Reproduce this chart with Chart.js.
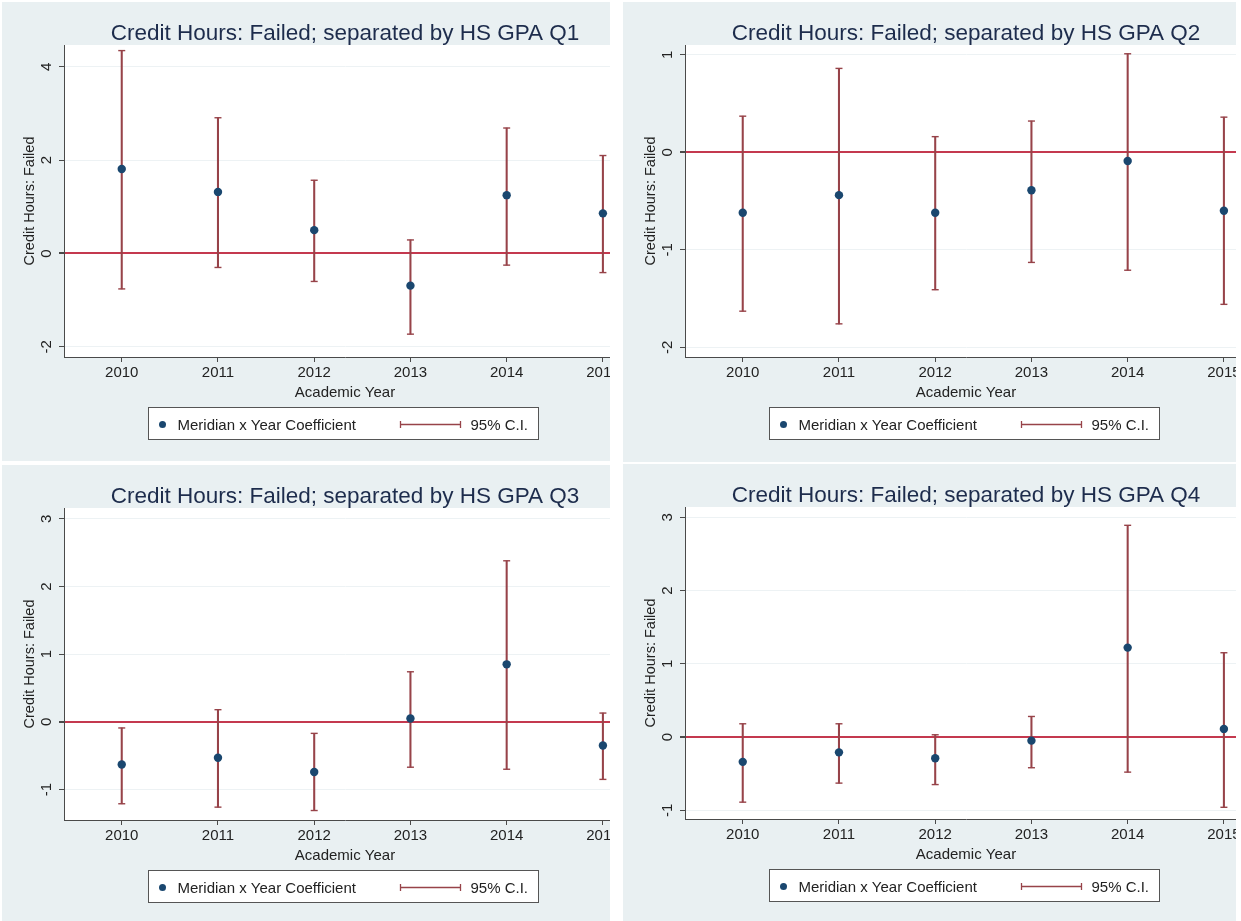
<!DOCTYPE html>
<html>
<head>
<meta charset="utf-8">
<title>Credit Hours: Failed; separated by HS GPA quartile</title>
<script src="https://cdn.jsdelivr.net/npm/chart.js@4.4.1/dist/chart.umd.min.js"></script>
<style>
  html, body { margin: 0; padding: 0; background: #fff; overflow: hidden; }
  body { width: 1241px; height: 921px; position: relative; }
  .panel { position: absolute; overflow: hidden; background: #e9f0f2; }
  .panel canvas { display: block; }
</style>
</head>
<body>
<div class="panel" style="left:2px;top:2px;width:608px;height:459px"><canvas id="q1" width="684" height="458"></canvas></div>
<div class="panel" style="left:623px;top:2px;width:613px;height:460px"><canvas id="q2" width="684" height="458"></canvas></div>
<div class="panel" style="left:2px;top:465px;width:608px;height:456px"><canvas id="q3" width="684" height="458"></canvas></div>
<div class="panel" style="left:623px;top:464px;width:613px;height:457px"><canvas id="q4" width="684" height="458"></canvas></div>

<script>
const years = [2010, 2011, 2012, 2013, 2014, 2015];
const legendLabels = ['Meridian x Year Coefficient', '95% C.I.'];

// Q1
const q1Coef = [1.81, 1.32, 0.50, -0.69, 1.25, 0.86];
const q1Low  = [-0.76, -0.30, -0.60, -1.73, -0.25, -0.41];
const q1High = [4.35, 2.91, 1.57, 0.29, 2.69, 2.10];
const q1Ticks = [-2, 0, 2, 4];

// Q2
const q2Coef = [-0.62, -0.44, -0.62, -0.39, -0.09, -0.60];
const q2Low  = [-1.63, -1.76, -1.41, -1.13, -1.21, -1.56];
const q2High = [0.37, 0.86, 0.16, 0.32, 1.01, 0.36];
const q2Ticks = [-2, -1, 0, 1];

// Q3
const q3Coef = [-0.63, -0.53, -0.74, 0.05, 0.85, -0.35];
const q3Low  = [-1.21, -1.26, -1.31, -0.67, -0.70, -0.85];
const q3High = [-0.09, 0.18, -0.17, 0.74, 2.38, 0.13];
const q3Ticks = [-1, 0, 1, 2, 3];

// Q4
const q4Coef = [-0.34, -0.21, -0.29, -0.05, 1.22, 0.11];
const q4Low  = [-0.89, -0.63, -0.65, -0.42, -0.48, -0.96];
const q4High = [0.18, 0.18, 0.03, 0.28, 2.89, 1.15];
const q4Ticks = [-1, 0, 1, 2, 3];

const NAVY = '#1a476f';
const MAROON = '#974349';
const ZERO = '#c4394f';
const GRID = '#edf2f4';
const AXIS = '#4a4a4a';
const TEXT = '#222';
const TITLE = '#1d2c4c';

Chart.defaults.font.family = "'Liberation Sans', Arial, sans-serif";

// white plot region on the bluish graph background
const plotBackground = {
  id: 'plotBackground',
  beforeDraw(chart) {
    const { ctx, chartArea: a } = chart;
    ctx.save();
    ctx.fillStyle = '#fff';
    ctx.fillRect(a.left, a.top, a.right - a.left, a.bottom - a.top);
    ctx.restore();
  }
};

// Stata style boxed legend under the axis title
const boxLegend = {
  id: 'boxLegend',
  afterDraw(chart) {
    const { ctx, chartArea } = chart;
    const w = 390, h = 32;
    const mid = (chartArea.left + chartArea.right) / 2 - 2;
    const x0 = Math.round(mid - w / 2) + 0.5;
    const y0 = Math.round(chartArea.bottom + 50) + 0.5;
    const cy = y0 + 17;
    ctx.save();
    ctx.fillStyle = '#fff';
    ctx.fillRect(x0, y0, w, h);
    ctx.strokeStyle = '#555';
    ctx.lineWidth = 1;
    ctx.strokeRect(x0, y0, w, h);

    ctx.fillStyle = NAVY;
    ctx.beginPath();
    ctx.arc(x0 + 14, cy, 3.5, 0, Math.PI * 2);
    ctx.fill();

    ctx.strokeStyle = MAROON;
    ctx.lineWidth = 1.3;
    ctx.beginPath();
    ctx.moveTo(x0 + 252, cy);
    ctx.lineTo(x0 + 312, cy);
    ctx.moveTo(x0 + 252, cy - 3.5);
    ctx.lineTo(x0 + 252, cy + 3.5);
    ctx.moveTo(x0 + 312, cy - 3.5);
    ctx.lineTo(x0 + 312, cy + 3.5);
    ctx.stroke();

    ctx.fillStyle = TEXT;
    ctx.font = "15px 'Liberation Sans', Arial, sans-serif";
    ctx.textBaseline = 'middle';
    ctx.fillText(legendLabels[0], x0 + 29, cy + 1);
    ctx.fillText(legendLabels[1], x0 + 322, cy + 1);
    ctx.restore();
  }
};

function buildPanel(id, title, coef, low, high, yTicks, yMin, yMax) {
  const point = (arr) => years.map((x, i) => ({ x, y: arr[i] }));
  return new Chart(document.getElementById(id), {
    type: 'scatter',
    data: {
      datasets: [
        {
          label: legendLabels[0],
          data: point(coef),
          pointRadius: 4.2,
          backgroundColor: NAVY,
          borderWidth: 0
        },
        {
          type: 'bar',
          label: legendLabels[1],
          data: years.map((x, i) => ({ x, y: [low[i], high[i]] })),
          backgroundColor: MAROON,
          barThickness: 1.4,
          borderWidth: 0
        },
        {
          label: 'lower cap',
          data: point(low),
          pointStyle: 'line',
          pointRadius: 3.5,
          borderColor: MAROON,
          borderWidth: 1.4
        },
        {
          label: 'upper cap',
          data: point(high),
          pointStyle: 'line',
          pointRadius: 3.5,
          borderColor: MAROON,
          borderWidth: 1.4
        }
      ]
    },
    options: {
      responsive: false,
      animation: false,
      events: [],
      layout: { padding: { left: 0, right: 60, top: 0, bottom: 55 } },
      plugins: {
        legend: { display: false },
        tooltip: { enabled: false },
        title: {
          display: true,
          fullSize: false,
          text: title,
          color: TITLE,
          font: { size: 22.5, weight: 'normal' },
          padding: { top: 18, bottom: -2 }
        }
      },
      scales: {
        x: {
          type: 'linear',
          min: 2009.40,
          max: 2015.24,
          offset: false,
          afterBuildTicks: (s) => { s.ticks = years.map(v => ({ value: v })); },
          afterFit: (s) => { s.height = 48; },
          grid: { offset: false, drawOnChartArea: false, tickLength: 5, tickColor: AXIS },
          border: { color: AXIS, width: 1 },
          ticks: {
            color: TEXT, padding: 2, maxRotation: 0, autoSkip: false,
            font: { size: 15 },
            callback: (v) => String(v)
          },
          title: {
            display: true, text: 'Academic Year', color: TEXT,
            font: { size: 15 }, padding: { top: 0, bottom: 3 }
          }
        },
        y: {
          min: yMin,
          max: yMax,
          afterBuildTicks: (s) => { s.ticks = yTicks.map(v => ({ value: v })); },
          afterFit: (s) => { s.width = 62; },
          grid: {
            color: (c) => (c.tick && c.tick.value === 0 ? ZERO : GRID),
            lineWidth: (c) => (c.tick && c.tick.value === 0 ? 2 : 1),
            tickLength: 5,
            tickColor: AXIS
          },
          border: { color: AXIS, width: 1 },
          ticks: {
            color: TEXT, padding: 5, minRotation: 90, maxRotation: 90,
            crossAlign: 'center', font: { size: 15 }
          },
          title: {
            display: true, text: 'Credit Hours: Failed', color: TEXT,
            font: { size: 14.5 }, padding: { top: 19, bottom: 0 }
          }
        }
      }
    },
    plugins: [plotBackground, boxLegend]
  });
}

buildPanel('q1', 'Credit Hours: Failed; separated by HS GPA Q1', q1Coef, q1Low, q1High, q1Ticks, -2.22, 4.47);
buildPanel('q2', 'Credit Hours: Failed; separated by HS GPA Q2', q2Coef, q2Low, q2High, q2Ticks, -2.10, 1.10);
buildPanel('q3', 'Credit Hours: Failed; separated by HS GPA Q3', q3Coef, q3Low, q3High, q3Ticks, -1.45, 3.16);
buildPanel('q4', 'Credit Hours: Failed; separated by HS GPA Q4', q4Coef, q4Low, q4High, q4Ticks, -1.12, 3.14);
</script>
</body>
</html>
